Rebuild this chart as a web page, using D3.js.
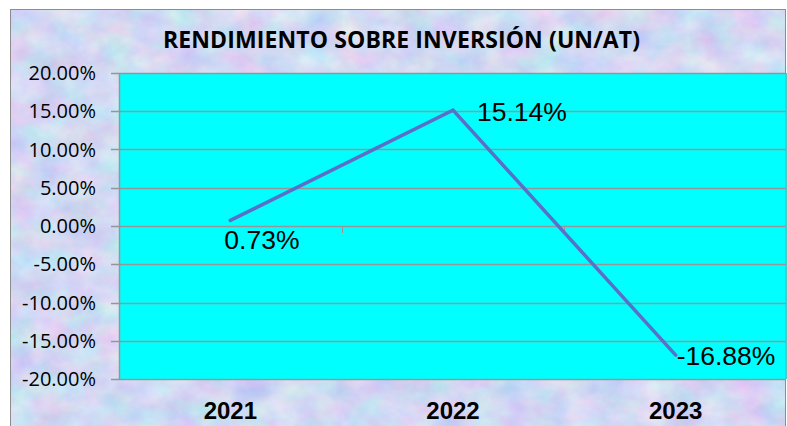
<!DOCTYPE html>
<html>
<head>
<meta charset="utf-8">
<script src="https://cdn.jsdelivr.net/npm/d3@7"></script>
<style>
  body { margin: 0; background: #fff; }
  svg { display: block; }
</style>
</head>
<body>
<div id="chart"></div>
<script>
var years = ["2021", "2022", "2023"];
var values = [0.0073, 0.1514, -0.1688];
var yTicks = [0.20, 0.15, 0.10, 0.05, 0, -0.05, -0.10, -0.15, -0.20];
var title = "RENDIMIENTO SOBRE INVERSIÓN (UN/AT)";

function init(){
  var w = 787, h = 426;

  var pct = d3.formatLocale({decimal: ".", thousands: ",", grouping: [3], currency: ["", ""], minus: "-"}).format(".2%");

  var svg = d3.select("#chart").append("svg")
      .attr("width", w)
      .attr("height", h);

  // textured background
  var defs = svg.append("defs");
  var filt = defs.append("filter").attr("id", "tex")
      .attr("x", 0).attr("y", 0).attr("width", "100%").attr("height", "100%")
      .attr("color-interpolation-filters", "sRGB");
  filt.append("feTurbulence")
      .attr("type", "fractalNoise")
      .attr("baseFrequency", "0.03 0.04")
      .attr("numOctaves", 4)
      .attr("seed", 7)
      .attr("result", "noise");
  filt.append("feColorMatrix")
      .attr("in", "noise")
      .attr("type", "matrix")
      .attr("values", "0.28 0 0 0 0.68  0 0.22 0 0 0.74  0 0 0.08 0 0.91  0 0 0 0 1");

  svg.append("rect")
      .attr("x", 10).attr("y", 9)
      .attr("width", 776).attr("height", 430)
      .attr("filter", "url(#tex)");
  svg.append("rect")
      .attr("x", 10.5).attr("y", 9.5)
      .attr("width", 775).attr("height", 430)
      .attr("fill", "none")
      .attr("stroke", "#8c8c8c")
      .attr("stroke-width", 1);

  var pLeft = 119, pRight = 787, pTop = 73, pBottom = 379;

  var x = d3.scaleBand().domain(years).range([pLeft, pRight]);
  var y = d3.scaleLinear().domain([-0.20, 0.20]).range([pBottom, pTop]);

  // plot area
  svg.append("rect")
      .attr("x", pLeft).attr("y", pTop)
      .attr("width", pRight - pLeft).attr("height", pBottom - pTop)
      .attr("fill", "#00ffff");

  // gridlines
  svg.append("g")
      .selectAll("line")
      .data(yTicks)
      .enter()
      .append("line")
      .attr("x1", pLeft - 8)
      .attr("x2", pRight - 1)
      .attr("y1", function(d){ return Math.round(y(d)) + 0.5; })
      .attr("y2", function(d){ return Math.round(y(d)) + 0.5; })
      .attr("stroke", "#969696")
      .attr("stroke-width", 1.5);

  // axis lines
  svg.append("line")
      .attr("x1", pLeft + 0.5).attr("x2", pLeft + 0.5)
      .attr("y1", pTop).attr("y2", pBottom)
      .attr("stroke", "#969696").attr("stroke-width", 1.5);
  svg.append("line")
      .attr("x1", pRight - 1).attr("x2", pRight - 1)
      .attr("y1", pTop).attr("y2", pBottom)
      .attr("stroke", "#969696").attr("stroke-width", 1);

  // category ticks at zero line
  svg.append("g")
      .selectAll("line")
      .data(years.slice(1))
      .enter()
      .append("line")
      .attr("x1", function(d){ return Math.round(x(d)) + 0.5; })
      .attr("x2", function(d){ return Math.round(x(d)) + 0.5; })
      .attr("y1", y(0))
      .attr("y2", y(0) + 7)
      .attr("stroke", "#969696");

  // y labels
  svg.append("g")
      .selectAll("text")
      .data(yTicks)
      .enter()
      .append("text")
      .attr("x", 96)
      .attr("y", function(d){ return y(d) + 7; })
      .attr("text-anchor", "end")
      .attr("font-family", "Open Sans, sans-serif")
      .attr("font-size", 20)
      .attr("fill", "#000")
      .text(function(d){ return pct(d); });

  // x labels
  svg.append("g")
      .selectAll("text")
      .data(years)
      .enter()
      .append("text")
      .attr("x", function(d){ return x(d) + x.bandwidth() / 2; })
      .attr("y", 419)
      .attr("text-anchor", "middle")
      .attr("font-family", "Liberation Sans, Arial, sans-serif")
      .attr("font-weight", "bold")
      .attr("font-size", 24)
      .attr("fill", "#000")
      .text(function(d){ return d; });

  // line
  var line = d3.line()
      .x(function(d, i){ return x(years[i]) + x.bandwidth() / 2; })
      .y(function(d){ return y(d); });

  svg.append("path")
      .datum(values)
      .attr("d", line)
      .attr("fill", "none")
      .attr("stroke", "#5a6fc9")
      .attr("stroke-width", 3.5)
      .attr("stroke-linecap", "round");

  // data labels
  var labelDx = [-6, 24, 1];
  var labelDy = [29, 11, 10];
  svg.append("g")
      .selectAll("text")
      .data(values)
      .enter()
      .append("text")
      .attr("x", function(d, i){ return x(years[i]) + x.bandwidth() / 2 + labelDx[i]; })
      .attr("y", function(d, i){ return y(d) + labelDy[i]; })
      .attr("font-family", "Liberation Sans, Arial, sans-serif")
      .attr("font-size", 26.5)
      .attr("fill", "#000")
      .text(function(d){ return pct(d); });

  // title
  svg.append("text")
      .attr("x", 163)
      .attr("y", 48)
      .attr("font-family", "Open Sans, sans-serif")
      .attr("font-weight", "bold")
      .attr("font-size", 23)
      .attr("textLength", 477)
      .attr("lengthAdjust", "spacing")
      .attr("fill", "#000")
      .text(title);
}

window.onload = init;
</script>
</body>
</html>
